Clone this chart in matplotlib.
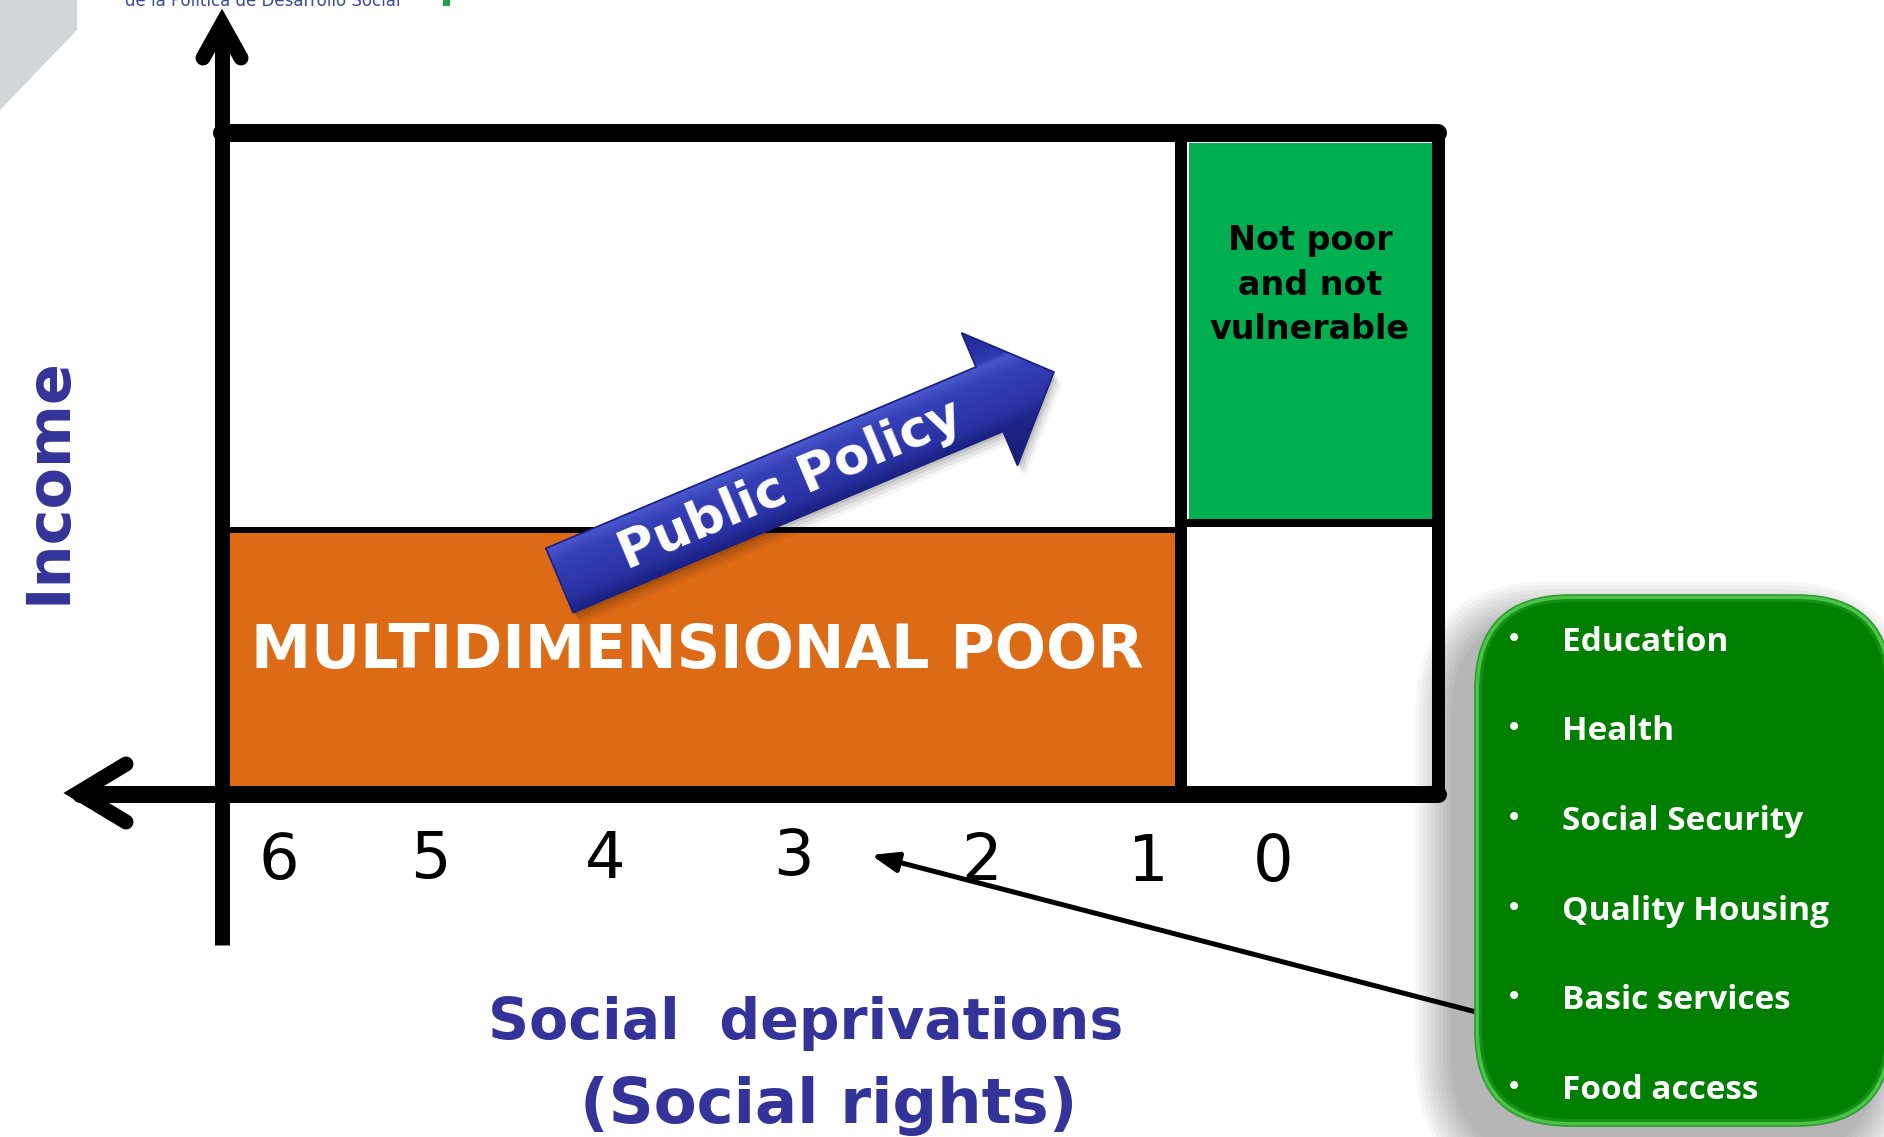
import numpy as np
import matplotlib
matplotlib.use('Agg')
import matplotlib.pyplot as plt
from matplotlib.patches import Rectangle, Polygon, FancyBboxPatch, FancyArrowPatch
from matplotlib.colors import LinearSegmentedColormap

# ---------------- data ----------------
tick_labels = ['6', '5', '4', '3', '2', '1', '0']
region_poor = 'MULTIDIMENSIONAL POOR'
region_notpoor = ['Not poor', 'and not', 'vulnerable']
arrow_label = 'Public Policy'
y_label = 'Income'
x_label_lines = ['Social  deprivations', '(Social rights)']
rights = ['Education', 'Health', 'Social Security', 'Quality Housing',
          'Basic services', 'Food access']
header = 'de la Política de Desarrollo Social'

# ---------------- layout (pixels) ----------------
tick_x = [279, 430, 605, 793, 982, 1148, 1273]
tick_base = [879, 878, 878, 875, 880, 881, 881]
rights_base = [651, 740, 830, 920, 1009, 1099]

NAVY = '#333399'
ORANGE = '#DD6A15'
LGREEN = '#00B050'
DGREEN = '#007F00'

W, H = 1884, 1137
PX = 0.72  # points per pixel at dpi 100

fig = plt.figure(figsize=(W / 100, H / 100), dpi=100)
ax = fig.add_axes([0, 0, 1, 1])
ax.set_xlim(0, W)
ax.set_ylim(H, 0)
ax.axis('off')

# header decoration
ax.add_patch(Polygon([(0, 0), (77, 0), (77, 30), (0, 110)], closed=True,
                     facecolor='#D3D6D9', edgecolor='none', zorder=0))
ax.text(125, 6, header, fontsize=12, color='#3b4a9b', ha='left', va='baseline',
        family='DejaVu Sans', zorder=1)
ax.add_patch(Rectangle((443, 0), 7, 6, facecolor='#1aa34a', edgecolor='none'))

# ---------------- regions ----------------
ax.add_patch(Rectangle((228, 533), 1175 - 228, 786 - 533, facecolor=ORANGE,
                       edgecolor='none', zorder=1))
ax.add_patch(Rectangle((1189, 143), 1433 - 1189, 519 - 143, facecolor=LGREEN,
                       edgecolor='none', zorder=1))

# frame lines
def line(xs, ys, wpx, cap='butt', z=4):
    ax.plot(xs, ys, color='black', lw=wpx * PX, solid_capstyle=cap,
            solid_joinstyle='round', zorder=z)

line([222, 1438], [133, 133], 18, cap='round')
line([1438, 1438], [133, 794], 13, cap='round')
line([80, 1438], [794, 794], 17, cap='round')
line([1181, 1181], [133, 794], 12)
line([222, 1181], [530, 530], 6)
line([1181, 1438], [523, 523], 8)
line([222, 222], [30, 945], 15)

# axis arrow heads (chevrons)
ax.plot([203, 222, 241], [58, 24, 58], color='black', lw=15 * PX,
        solid_joinstyle='miter', solid_capstyle='round', zorder=4)
ax.plot([126, 78, 126], [764, 793, 822], color='black', lw=15 * PX,
        solid_joinstyle='miter', solid_capstyle='round', zorder=4)

# ---------------- texts in regions ----------------
ax.text(697, 668, region_poor, fontsize=43.5, fontweight='bold', color='white',
        ha='center', va='baseline', family='DejaVu Sans', zorder=5)
for s, yb in zip(region_notpoor, [250, 295, 339]):
    ax.text(1310, yb, s, fontsize=24, fontweight='bold', color='black',
            ha='center', va='baseline', family='DejaVu Sans', zorder=5)

# tick labels
for lab, x, yb in zip(tick_labels, tick_x, tick_base):
    ax.text(x, yb, lab, fontsize=46, color='black', ha='center', va='baseline',
            family='DejaVu Sans', zorder=5)

# axis titles
ax.text(66, 481, y_label, rotation=90, rotation_mode='anchor', ha='center',
        va='baseline', fontsize=43.5, fontweight='bold', color=NAVY,
        family='DejaVu Sans')
ax.text(806, 1039, x_label_lines[0], ha='center', va='baseline', fontsize=41,
        fontweight='bold', color=NAVY, family='DejaVu Sans')
ax.text(829, 1123, x_label_lines[1], ha='center', va='baseline', fontsize=45,
        fontweight='bold', color=NAVY, family='DejaVu Sans')

# ---------------- Public Policy arrow ----------------
tail = np.array([559.5, 580.5])
tip = np.array([1054.0, 372.0])
d = tip - tail
L = np.hypot(*d)
u = d / L
n = np.array([-u[1], u[0]])
sw, hw, hl = 70.0, 144.0, 70.0
base = tip - u * hl
pts = np.array([tail + n * sw / 2, base + n * sw / 2, base + n * hw / 2, tip,
                base - n * hw / 2, base - n * sw / 2, tail - n * sw / 2])

for k, a in [(3, 0.10), (6, 0.08), (9, 0.06), (12, 0.04)]:
    ax.add_patch(Polygon(pts + np.array([k * 0.7, k]), closed=True,
                         facecolor='black', edgecolor='none', alpha=a, zorder=5))

x0, x1 = pts[:, 0].min() - 2, pts[:, 0].max() + 2
y0, y1 = pts[:, 1].min() - 2, pts[:, 1].max() + 2
gx = np.linspace(x0, x1, 400)
gy = np.linspace(y0, y1, 300)
GX, GY = np.meshgrid(gx, gy)
S = ((GX - tail[0]) * n[0] + (GY - tail[1]) * n[1]) / (sw / 2)
cmap = LinearSegmentedColormap.from_list('blu', [
    (0.0, '#1e2690'), (0.24, '#2f3ab4'), (0.27, '#4a56cc'), (0.36, '#3641b8'),
    (0.62, '#2a33a4'), (0.71, '#1d2488'), (1.0, '#171d72')])
im = ax.imshow(S, extent=(x0, x1, y1, y0), origin='upper', cmap=cmap,
               vmin=-2.1, vmax=2.1, zorder=6, interpolation='bilinear',
               aspect='auto')
poly = Polygon(pts, closed=True, facecolor='none', edgecolor='#1a2080',
               lw=1.2, zorder=6.5)
ax.add_patch(poly)
im.set_clip_path(poly)
ax.set_xlim(0, W)
ax.set_ylim(H, 0)

ang = np.degrees(np.arctan2(-d[1], d[0]))
pos = tail + u * 250 + n * 2
ax.text(pos[0], pos[1], arrow_label, rotation=ang, rotation_mode='anchor',
        ha='center', va='center', fontsize=37, fontweight='bold', color='white',
        family='DejaVu Sans', zorder=7)

# ---------------- pointer arrow ----------------
ax.add_patch(FancyArrowPatch((1480, 1013), (871, 855),
                             arrowstyle='-|>,head_length=16,head_width=6',
                             lw=5 * PX, color='black', shrinkA=0, shrinkB=0,
                             zorder=3))

# ---------------- green rounded box ----------------
bx, by, bw, bh, rr = 1475, 595, 417, 531, 95
for k in range(1, 11):
    e = k * 4
    ax.add_patch(FancyBboxPatch((bx - e - 20, by - e + 26), bw + 2 * e, bh + 2 * e,
                                boxstyle=f'round,pad=0,rounding_size={rr + e}',
                                facecolor='black', edgecolor='none', alpha=0.03,
                                zorder=8))
ax.add_patch(FancyBboxPatch((bx, by), bw, bh,
                            boxstyle=f'round,pad=0,rounding_size={rr}',
                            facecolor='#4cc44c', edgecolor='#2e9e2e', lw=1.2,
                            zorder=9))
ax.add_patch(FancyBboxPatch((bx + 4, by + 4), bw - 8, bh - 8,
                            boxstyle=f'round,pad=0,rounding_size={rr - 4}',
                            facecolor='#149014', edgecolor='none', zorder=9.2))
ax.add_patch(FancyBboxPatch((bx + 7, by + 7), bw - 14, bh - 14,
                            boxstyle=f'round,pad=0,rounding_size={rr - 7}',
                            facecolor=DGREEN, edgecolor='none', zorder=9.4))

for item, yb in zip(rights, rights_base):
    ax.text(1514, yb - 4, '\u2022', fontsize=20, color='white', ha='center',
            va='baseline', family='DejaVu Sans', zorder=10)
    ax.text(1562, yb, item, fontsize=24, fontweight='bold', color='white',
            ha='left', va='baseline', family=['Open Sans', 'DejaVu Sans'],
            zorder=10)

fig.savefig('out.png', dpi=100, facecolor='white')
